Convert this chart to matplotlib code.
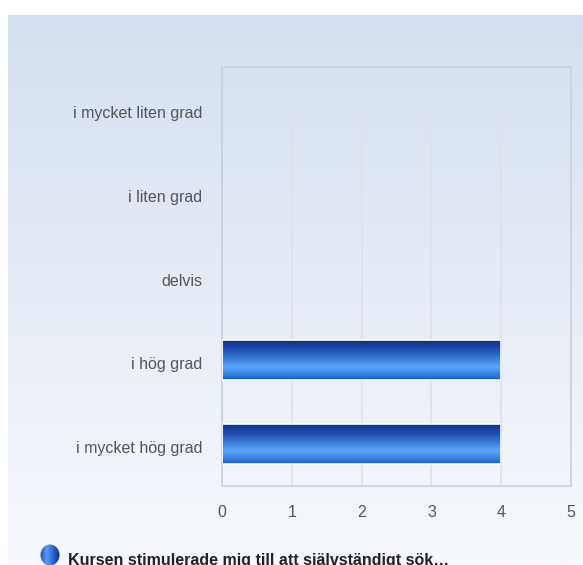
import numpy as np
import matplotlib
matplotlib.use("Agg")
import matplotlib.pyplot as plt
import matplotlib.transforms as mtransforms
from matplotlib.colors import LinearSegmentedColormap
from matplotlib.patches import Ellipse

plt.rcParams['font.family'] = ['Liberation Sans', 'DejaVu Sans']

categories = ['i mycket liten grad', 'i liten grad', 'delvis', 'i hög grad', 'i mycket hög grad']
values = [0, 0, 0, 4, 4]
xticks = [0, 1, 2, 3, 4, 5]
series_name = 'Kursen stimulerade mig till att självständigt sök…'

W, H = 583, 565
fig = plt.figure(figsize=(W / 100, H / 100), dpi=100)
fig.patch.set_facecolor('white')

# background panel with vertical gradient
bg = fig.add_axes([8 / W, 0, 1 - 8 / W, (H - 15) / H])
bg_cmap = LinearSegmentedColormap.from_list('bg', ['#d3dff0', '#e6ecf6', '#f7f9fd'])
bg.imshow(np.linspace(0, 1, 256).reshape(-1, 1), aspect='auto', cmap=bg_cmap,
          extent=[0, 1, 0, 1], origin='upper')
bg.set_axis_off()

ax = fig.add_axes([222 / W, (H - 486) / H, 349 / W, 419 / H])
ax.patch.set_alpha(0)
ax.set_zorder(2)

y = np.arange(len(categories))
bars = ax.barh(y, values, height=0.48, color='none', edgecolor='none', zorder=3)

bar_cmap = LinearSegmentedColormap.from_list(
    'bar', [(0, '#0a2b8a'), (0.3, '#2457b8'), (0.68, '#5aa6fc'), (0.78, '#4a94ec'), (1, '#1a5cc4')])
grad = np.linspace(0, 1, 128).reshape(-1, 1)
for b in bars:
    if b.get_width() <= 0:
        continue
    b.set_edgecolor('white')
    b.set_linewidth(1.2)
    x0, y0 = b.get_x(), b.get_y()
    w, h = b.get_width(), b.get_height()
    im = ax.imshow(grad, aspect='auto', cmap=bar_cmap, origin='upper',
                   extent=[x0, x0 + w, y0 + h, y0], zorder=2.5)
    im.set_clip_path(b)

ax.set_xlim(0, 5)
ax.set_ylim(len(categories) - 0.5, -0.5)
ax.set_xticks(xticks)
ax.set_xticklabels([str(t) for t in xticks])
ax.set_yticks(y)
ax.set_yticklabels(categories)
ax.tick_params(axis='both', length=0, labelsize=11.5, labelcolor='#555555')
ax.tick_params(axis='y', pad=14)
ax.tick_params(axis='x', pad=14)
shift = mtransforms.ScaledTranslation(0, -3 / 100, fig.dpi_scale_trans)
for lab in ax.get_yticklabels():
    lab.set_transform(lab.get_transform() + shift)
ax.grid(axis='x', color='#dfe1e6', linewidth=1.2, zorder=1)
ax.set_axisbelow(True)
for s in ax.spines.values():
    s.set_color('#cdd1d8')
    s.set_linewidth(1.2)
ax.spines['left'].set_color('#c4cfe3')

# legend marker and label (cut at the bottom edge)
leg = fig.add_axes([0, 0, 1, 1])
leg.set_xlim(0, W)
leg.set_ylim(H, 0)
leg.set_axis_off()
leg.patch.set_alpha(0)
circ = Ellipse((50, 555), 19, 21, transform=leg.transData, facecolor='none', edgecolor='none')
leg.add_patch(circ)
leg_cmap = LinearSegmentedColormap.from_list('leg', ['#1b4fb8', '#5a9cf0', '#2a66cc', '#0b2f8c'])
gim = leg.imshow(np.linspace(0, 1, 64).reshape(1, -1), aspect='auto', cmap=leg_cmap,
                 extent=[40, 60, 566, 544], zorder=3)
gim.set_clip_path(circ)
leg.set_xlim(0, W)
leg.set_ylim(H, 0)
leg.text(68, 561, series_name, fontsize=11.5, fontweight='bold', color='#222222',
         va='center', ha='left')

fig.savefig('out.png', dpi=100)
